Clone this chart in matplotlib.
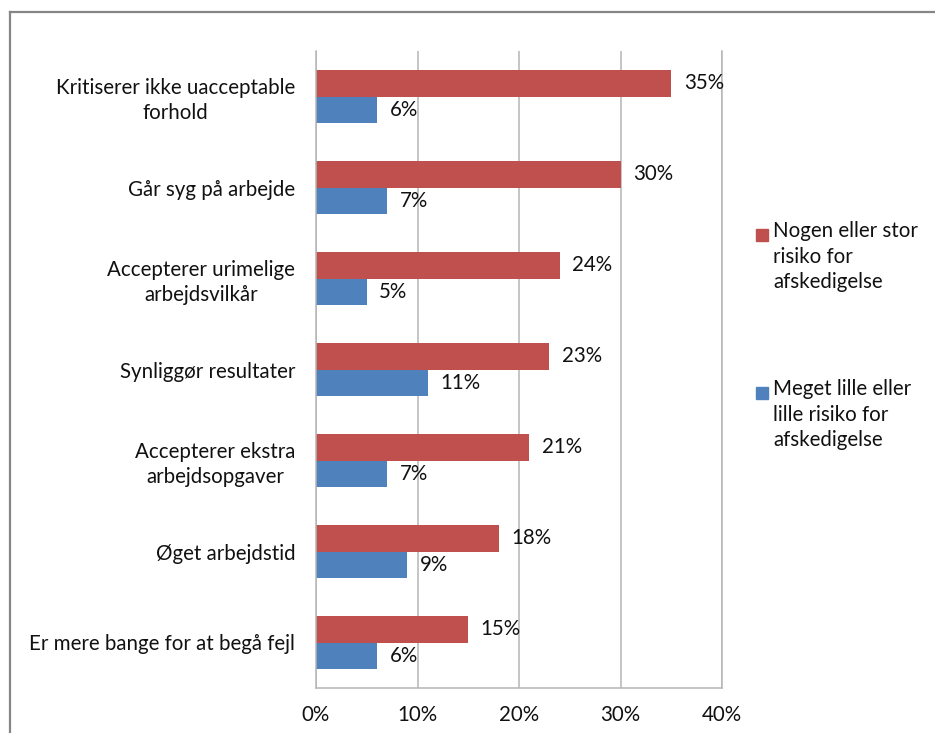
import matplotlib
matplotlib.use("Agg")
import numpy as np
import matplotlib.pyplot as plt
from matplotlib.lines import Line2D
from matplotlib.patches import Rectangle
from matplotlib.ticker import FuncFormatter

plt.rcParams["font.family"] = ["Lato", "DejaVu Sans"]

categories = [
    "Kritiserer ikke uacceptable\nforhold",
    "Går syg på arbejde",
    "Accepterer urimelige\narbejdsvilkår",
    "Synliggør resultater",
    "Accepterer ekstra\narbejdsopgaver",
    "Øget arbejdstid",
    "Er mere bange for at begå fejl",
]
high_risk = [35, 30, 24, 23, 21, 18, 15]
low_risk = [6, 7, 5, 11, 7, 9, 6]
series_names = [
    "Nogen eller stor\nrisiko for\nafskedigelse",
    "Meget lille eller\nlille risiko for\nafskedigelse",
]
colors = ["#C0504D", "#4F81BD"]
xticks = [0, 10, 20, 30, 40]

W, H = 935, 733
fig = plt.figure(figsize=(W / 100, H / 100), dpi=100)
ax = fig.add_axes([316 / W, 1 - 688 / H, (722 - 316) / W, (688 - 51) / H])

txt = "#111111"
grid = "#b5b5b5"
fs = 14.8

y = np.arange(len(categories))
h = 0.286
b1 = ax.barh(y - h / 2, high_risk, height=h, color=colors[0])
b2 = ax.barh(y + h / 2, low_risk, height=h, color=colors[1])
for bars in (b1, b2):
    ax.bar_label(bars, labels=[f"{v}%" for v in bars.datavalues],
                 padding=9, fontsize=fs, color=txt)

ax.set_xlim(0, 40)
ax.set_ylim(len(categories) - 0.5, -0.5)
ax.set_xticks(xticks)
ax.xaxis.set_major_formatter(FuncFormatter(lambda v, p: f"{v:.0f}%"))
ax.set_yticks(y)
ax.set_yticklabels(categories, multialignment="center", linespacing=1.3)
ax.tick_params(axis="x", length=0, pad=12, labelsize=fs, labelcolor=txt)
ax.tick_params(axis="y", length=0, pad=15, labelsize=fs, labelcolor=txt)
ax.grid(axis="x", color=grid, linewidth=1.1)
ax.set_axisbelow(True)
ax.spines["top"].set_visible(False)
for s in ("left", "bottom", "right"):
    ax.spines[s].set_color(grid)
    ax.spines[s].set_linewidth(1.1)

# legend, drawn by hand so the swatch lines up with the first text line
for name, col, yc in zip(series_names, colors, [235, 393]):
    fig.add_artist(Rectangle((756 / W, 1 - (yc + 6) / H), 12 / W, 12 / H,
                             transform=fig.transFigure, color=col))
    fig.text(773 / W, 1 - (yc - 14) / H, name, fontsize=fs, color=txt,
             va="top", ha="left", linespacing=1.35)

# chart border (top and left visible in the crop)
bc = "#868686"
fig.add_artist(Line2D([10 / W, 10 / W], [0, 1 - 12 / H], color=bc, lw=1.6,
                      transform=fig.transFigure))
fig.add_artist(Line2D([10 / W, 1], [1 - 12 / H, 1 - 12 / H], color=bc, lw=1.6,
                      transform=fig.transFigure))

fig.savefig("out.png", dpi=100)
